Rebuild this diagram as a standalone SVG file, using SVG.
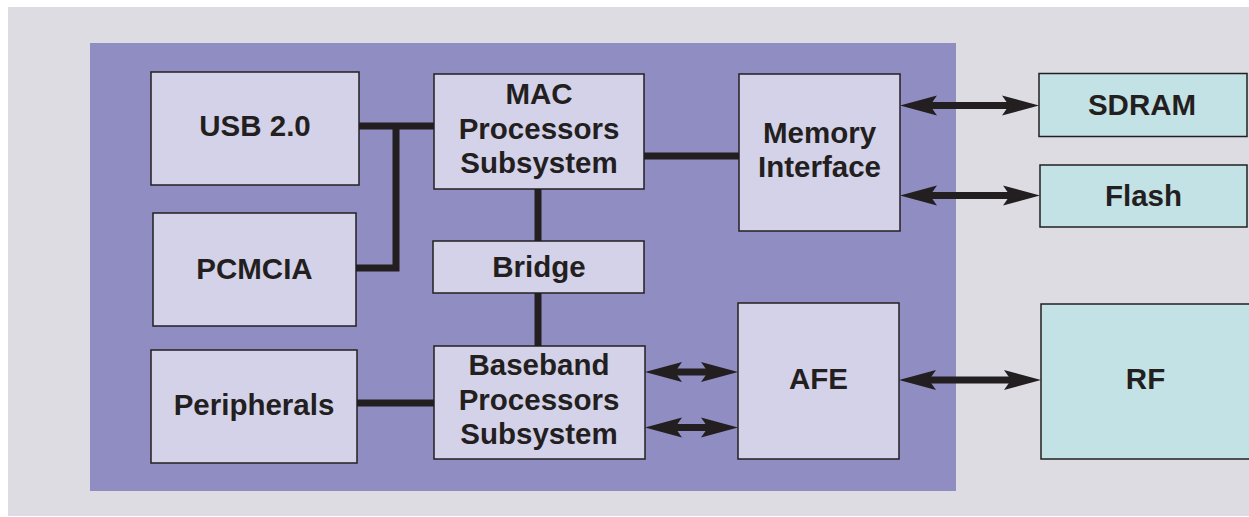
<svg xmlns="http://www.w3.org/2000/svg" width="1249" height="517" viewBox="0 0 1249 517">
<style>
.box{fill:#d4d2e9;stroke:#231f20;stroke-width:1.5}
.ext{fill:#c3e2e6;stroke:#231f20;stroke-width:1.5}
.t{font-family:"Liberation Sans",Arial,Helvetica,sans-serif;font-weight:bold;font-size:29.5px;fill:#231f20;text-anchor:middle}
.bus{stroke:#231f20;stroke-width:7;fill:none}
.arr{stroke:#231f20;stroke-width:7;fill:none;marker-start:url(#ah);marker-end:url(#ah)}
</style>
<defs>
<marker id="ah" markerUnits="userSpaceOnUse" markerWidth="38" markerHeight="21" viewBox="0 0 38 21" refX="17" refY="10.5" orient="auto-start-reverse">
<path d="M37,10.5 L0,0.5 L7,10.5 L0,20.5 Z" fill="#231f20"/>
</marker>
</defs>
<rect x="8" y="7" width="1241" height="509" fill="#dddce2"/>
<rect x="90" y="43" width="866" height="448" fill="#908dc2"/>
<g id="connectors">
<polyline class="bus" points="359,126 434,126"/>
<polyline class="bus" points="356,268 396,268 396,126"/>
<line class="bus" x1="538" y1="189" x2="538" y2="241"/>
<line class="bus" x1="538" y1="293" x2="538" y2="346"/>
<line class="bus" x1="644" y1="156" x2="739" y2="156"/>
<line class="bus" x1="357" y1="403" x2="434" y2="403"/>
<line class="arr" x1="920" y1="105.5" x2="1019" y2="105.5"/>
<line class="arr" x1="920" y1="195.5" x2="1020" y2="195.5"/>
<line class="arr" x1="665" y1="372" x2="718" y2="372"/>
<line class="arr" x1="665" y1="427.5" x2="718" y2="427.5"/>
<line class="arr" x1="919" y1="380" x2="1021" y2="380"/>
</g>
<g id="usb"><rect class="box" x="151" y="72" width="208" height="113"/><text class="t" x="255" y="136">USB 2.0</text></g>
<g id="pcmcia"><rect class="box" x="153" y="213" width="203" height="113"/><text class="t" x="254.5" y="279">PCMCIA</text></g>
<g id="peripherals"><rect class="box" x="151" y="350" width="206" height="113"/><text class="t" x="254" y="415">Peripherals</text></g>
<g id="mac"><rect class="box" x="434" y="74" width="210" height="115"/><text class="t" x="539" y="104">MAC</text><text class="t" x="539" y="138.5">Processors</text><text class="t" x="539" y="172.5">Subsystem</text></g>
<g id="bridge"><rect class="box" x="433" y="241" width="211" height="52"/><text class="t" x="539" y="277">Bridge</text></g>
<g id="baseband"><rect class="box" x="434" y="346" width="211" height="113"/><text class="t" x="539" y="375">Baseband</text><text class="t" x="539" y="409.5">Processors</text><text class="t" x="539" y="443.5">Subsystem</text></g>
<g id="memory"><rect class="box" x="739" y="74" width="161" height="157"/><text class="t" x="819.5" y="143">Memory</text><text class="t" x="819.5" y="177">Interface</text></g>
<g id="afe"><rect class="box" x="738" y="303" width="161" height="156"/><text class="t" x="818.5" y="389">AFE</text></g>
<g id="sdram"><rect class="ext" x="1039" y="73.5" width="208" height="63"/><text class="t" x="1142" y="114.5">SDRAM</text></g>
<g id="flash"><rect class="ext" x="1040" y="165" width="207" height="62"/><text class="t" x="1143.5" y="206">Flash</text></g>
<g id="rf"><rect class="ext" x="1041" y="304" width="210" height="155"/><text class="t" x="1145.5" y="389">RF</text></g>
</svg>
